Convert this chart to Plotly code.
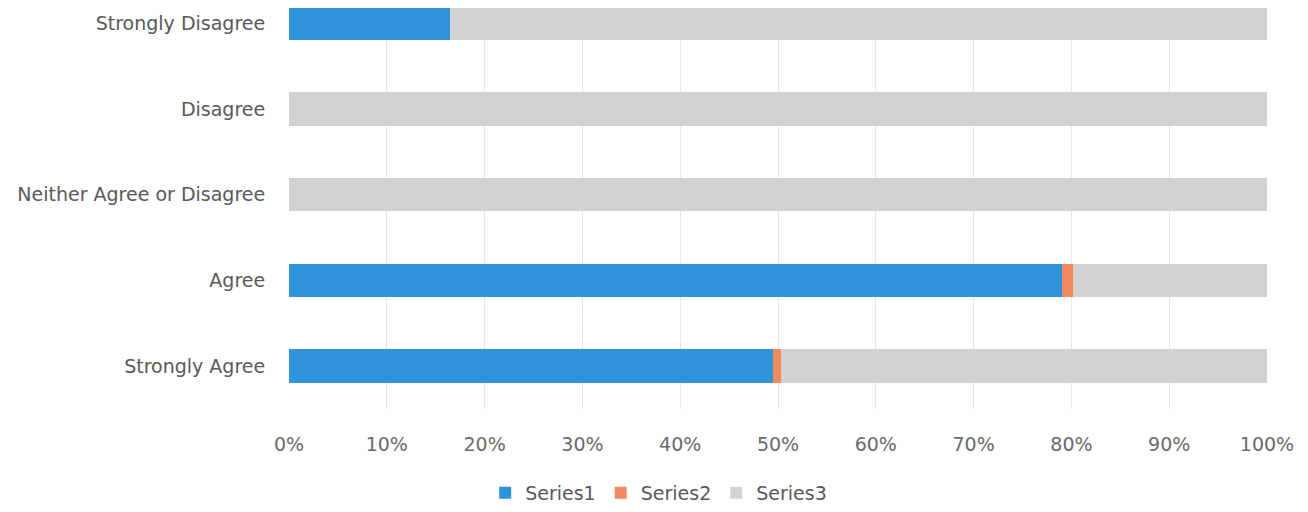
import plotly.graph_objects as go

categories = ["Strongly Agree", "Agree", "Neither Agree or Disagree", "Disagree", "Strongly Disagree"]
series1 = [49.5, 79.0, 0, 0, 16.5]
series2 = [0.8, 1.2, 0, 0, 0]
series3 = [49.7, 19.8, 100, 100, 83.5]
tick_vals = [0, 10, 20, 30, 40, 50, 60, 70, 80, 90, 100]
tick_text = [f"{v}%" for v in tick_vals]

colors = ["#2E93DA", "#F28A5C", "#D2D2D2"]
names = ["Series1", "Series2", "Series3"]

fig = go.Figure()
for name, vals, col in zip(names, [series1, series2, series3], colors):
    fig.add_trace(go.Bar(
        y=list(range(len(categories))), x=vals, name=name, orientation="h",
        marker=dict(color=col, line=dict(width=0)), width=0.39,
    ))

FONT = "DejaVu Sans"
fig.update_layout(
    barmode="stack",
    width=1300, height=504,
    margin=dict(l=281, r=41, t=0, b=99),
    paper_bgcolor="white", plot_bgcolor="white",
    font=dict(family=FONT, color="#595959", size=19),
    showlegend=True,
    legend=dict(orientation="h", x=0.378, xanchor="center", y=-0.21, yanchor="middle",
                font=dict(family=FONT, size=19, color="#595959"), traceorder="normal",
                itemwidth=30),
    xaxis=dict(range=[0, 100], tickvals=tick_vals, ticktext=tick_text,
               showgrid=True, gridcolor="#E8E8E8", gridwidth=1, zeroline=False,
               ticks="outside", ticklen=18, tickcolor="rgba(0,0,0,0)",
               tickfont=dict(family=FONT, size=19, color="#6a6a6a")),
    yaxis=dict(range=[-0.5, 4.179], tickvals=list(range(len(categories))), ticktext=categories,
               showgrid=False, zeroline=False, ticks="outside", ticklen=19,
               tickcolor="rgba(0,0,0,0)", tickfont=dict(family=FONT, size=19, color="#595959")),
)

fig.write_html("out.html")
